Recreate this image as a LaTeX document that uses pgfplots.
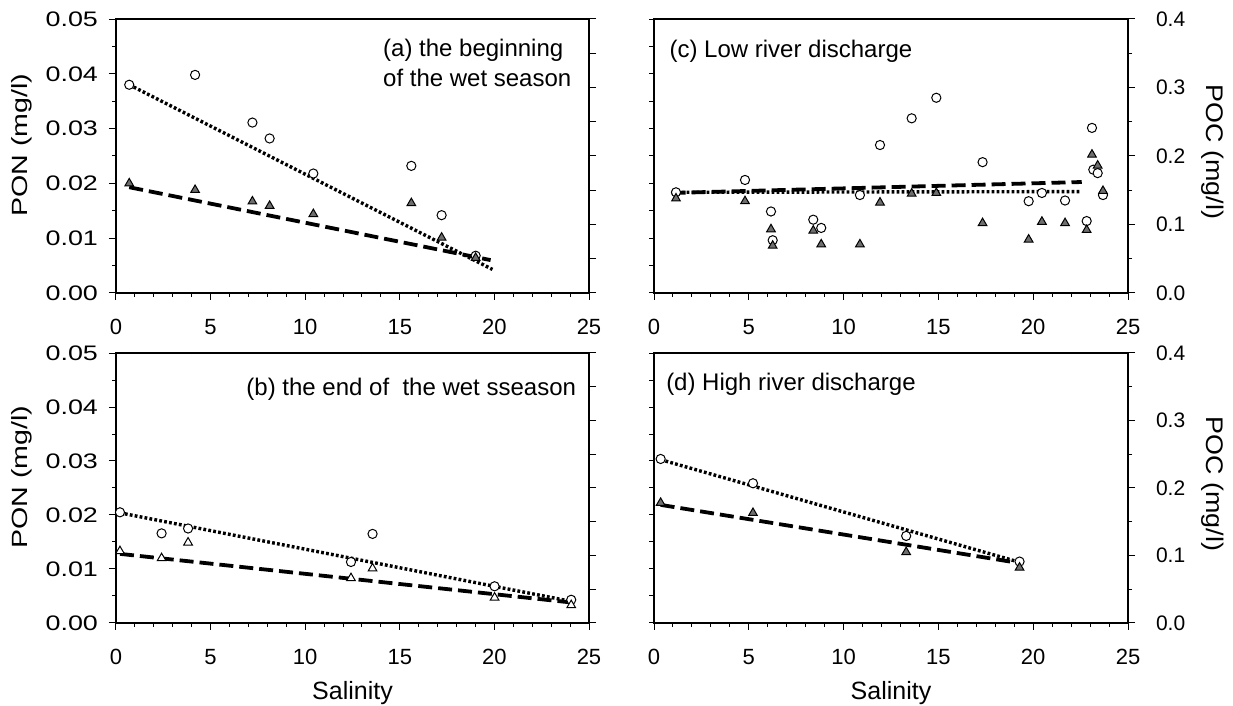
\documentclass[border=0pt]{standalone}
\usepackage{graphicx}
\usepackage{pgfplots}
\pgfplotsset{compat=1.18}
\usepackage{fontspec}
\setmainfont{Liberation Sans}
\definecolor{trigray}{RGB}{110,110,110}
\pgfplotsset{
  base/.style={scale only axis, xmin=0, xmax=25, xtick={0,5,10,15,20,25}, minor x tick num=4,
    tick align=outside, xtick pos=bottom, major tick length=3.5pt, minor tick length=2pt,
    every tick/.style={black, line width=0.5pt},
    axis line style={black, line width=0.6pt},
    scaled y ticks=false,
    /pgf/number format/assume math mode=true,
    xticklabel style={font=\fontsize{11}{13}\selectfont, yshift=-6pt},
    clip=false},
  leftpanel/.style={base, ymin=0, ymax=0.05, ytick={0,0.01,0.02,0.03,0.04,0.05}, minor y tick num=1,
    ytick pos=left, yticklabel={\scalebox{1.28}[1]{\pgfmathprintnumber{\tick}}},
    yticklabel style={font=\fontsize{10.5}{12}\selectfont, /pgf/number format/fixed, /pgf/number format/fixed zerofill, /pgf/number format/precision=2, xshift=-2pt}},
  rightpanel/.style={base, ymin=0, ymax=0.4, ytick={0,0.1,0.2,0.3,0.4}, minor y tick num=1,
    ytick pos=right, yticklabel pos=right,
    yticklabel style={font=\fontsize{10.5}{12}\selectfont, /pgf/number format/fixed, /pgf/number format/fixed zerofill, /pgf/number format/precision=1, xshift=7pt}},
  overlayR/.style={scale only axis, xmin=0, xmax=25, ymin=0, ymax=0.4, hide x axis, scaled y ticks=false, ytick={0,0.05,...,0.4}, yticklabels={},
    ytick pos=right, tick align=outside, major tick length=3.5pt, every tick/.style={black, line width=0.5pt}, axis line style={black, line width=0.6pt}},
  overlayL/.style={scale only axis, xmin=0, xmax=25, ymin=0, ymax=0.05, hide x axis, scaled y ticks=false, ytick={0,0.005,...,0.05}, yticklabels={},
    ytick pos=left, tick align=outside, major tick length=2.5pt, every tick/.style={black, line width=0.5pt}, axis line style={black, line width=0.6pt}},
  ponlabel/.style={every axis y label/.style={at={(rel axis cs:0,0.5)}, anchor=center, xshift=-47pt, yshift=5.5pt, rotate=90, font=\fontsize{11}{13}\selectfont},
    ylabel={\scalebox{1.3}[1]{PON (mg/l)}}},
  poclabel/.style={every axis y label/.style={at={(rel axis cs:1,0.5)}, anchor=center, xshift=42.5pt, yshift=2pt, rotate=-90, font=\fontsize{12}{14}\selectfont},
    ylabel={\scalebox{1.12}[1]{POC (mg/l)}}},
  sallabel/.style={xlabel={Salinity}, every axis x label/.style={at={(rel axis cs:0.5,0)}, anchor=center, yshift=-35pt, font=\fontsize{12.5}{14}\selectfont}},
  circ/.style={only marks, mark=*, mark size=2.3pt, mark options={fill=white, draw=black, line width=0.5pt}},
  tri/.style={only marks, mark=triangle*, mark size=2.5pt, mark options={fill=trigray, draw=black, line width=0.5pt}},
  otri/.style={only marks, mark=triangle*, mark size=2.5pt, mark options={fill=white, draw=black, line width=0.5pt}},
  dotline/.style={no marks, black, line width=1.7pt, dash pattern=on 1.4pt off 1.1pt},
  dashline/.style={no marks, black, line width=1.9pt, dash pattern=on 7pt off 3pt},
}
\newcommand{\annot}{\fontsize{12}{14}\selectfont}
\begin{document}
\begin{tikzpicture}
\useasboundingbox (0,0) rectangle (616.5pt,353pt);
% ---------- (a)
\begin{axis}[overlayR, at={(58pt,206.5pt)}, anchor=south west, width=236.5pt, height=137pt]
\end{axis}
\begin{axis}[leftpanel, ponlabel, at={(58pt,206.5pt)}, anchor=south west, width=236.5pt, height=137pt]
\addplot[circ] coordinates {(0.70,0.0380) (4.18,0.0398) (7.21,0.0311) (8.12,0.0282) (10.43,0.0218) (15.61,0.0232) (17.21,0.0142) (19.01,0.0068)};
\addplot[tri] coordinates {(0.70,0.0200) (4.18,0.0188) (7.21,0.0167) (8.12,0.0159) (10.43,0.0144) (15.61,0.0164) (17.21,0.0101) (19.01,0.0064)};
\addplot[dotline] coordinates {(0.7,0.0380) (19.9,0.0043)};
\addplot[dashline] coordinates {(0.7,0.0193) (19.8,0.0060)};
\node[anchor=base west, inner sep=0pt, font=\annot] at (rel axis cs:0.564,0.862) {(a) the beginning};
\node[anchor=base west, inner sep=0pt, font=\annot] at (rel axis cs:0.564,0.755) {of the wet season};
\end{axis}
% ---------- (c)
\begin{axis}[overlayL, at={(327pt,206.5pt)}, anchor=south west, width=237pt, height=137pt]
\end{axis}
\begin{axis}[rightpanel, poclabel, at={(327pt,206.5pt)}, anchor=south west, width=237pt, height=137pt]
\addplot[circ] coordinates {(1.16,0.147) (4.80,0.165) (6.17,0.119) (6.26,0.077) (8.40,0.107) (8.82,0.095) (10.86,0.143) (11.92,0.216) (13.59,0.255) (14.89,0.285) (17.33,0.191) (19.76,0.134) (20.46,0.146) (21.68,0.135) (22.82,0.105) (23.10,0.241) (23.17,0.180) (23.40,0.175) (23.68,0.143)};
\addplot[tri] coordinates {(1.16,0.138) (4.80,0.134) (6.17,0.093) (6.26,0.069) (8.40,0.091) (8.82,0.071) (10.86,0.071) (11.92,0.132) (13.59,0.145) (14.89,0.146) (17.33,0.102) (19.76,0.078) (20.46,0.104) (21.68,0.102) (22.82,0.092) (23.10,0.202) (23.40,0.186) (23.68,0.149)};
\addplot[dotline] coordinates {(0.93,0.147) (22.5,0.148)};
\addplot[dashline] coordinates {(0.93,0.146) (22.56,0.162)};
\node[anchor=base west, inner sep=0pt, font=\annot] at (rel axis cs:0.032,0.860) {(c) Low river discharge};
\end{axis}
% ---------- (b)
\begin{axis}[overlayR, at={(58pt,41.5pt)}, anchor=south west, width=236.5pt, height=135pt]
\end{axis}
\begin{axis}[leftpanel, ponlabel, sallabel, at={(58pt,41.5pt)}, anchor=south west, width=236.5pt, height=135pt]
\addplot[circ] coordinates {(0.21,0.0205) (2.41,0.0166) (3.81,0.0175) (12.42,0.0113) (13.56,0.0165) (20.01,0.0068) (24.06,0.0043)};
\addplot[otri] coordinates {(0.21,0.0133) (2.41,0.0120) (3.81,0.0149) (12.42,0.0083) (13.56,0.0101) (20.01,0.0047) (24.06,0.0033)};
\addplot[dotline] coordinates {(0.21,0.0204) (24.06,0.0040)};
\addplot[dashline] coordinates {(0.21,0.0128) (24.06,0.0038)};
\node[anchor=base west, inner sep=0pt, font=\annot] at (rel axis cs:0.275,0.842) {(b) the end of\ \ the wet sseason};
\end{axis}
% ---------- (d)
\begin{axis}[overlayL, at={(327pt,41.5pt)}, anchor=south west, width=237pt, height=135pt]
\end{axis}
\begin{axis}[rightpanel, poclabel, sallabel, at={(327pt,41.5pt)}, anchor=south west, width=237pt, height=135pt]
\addplot[circ] coordinates {(0.35,0.243) (5.22,0.207) (13.30,0.129) (19.28,0.091)};
\addplot[tri] coordinates {(0.35,0.178) (5.22,0.163) (13.30,0.105) (19.28,0.082)};
\addplot[dotline] coordinates {(0.35,0.242) (19.28,0.090)};
\addplot[dashline] coordinates {(0.35,0.175) (19.0,0.090)};
\node[anchor=base west, inner sep=0pt, font=\annot] at (rel axis cs:0.025,0.860) {(d) High river discharge};
\end{axis}
\end{tikzpicture}
\end{document}
